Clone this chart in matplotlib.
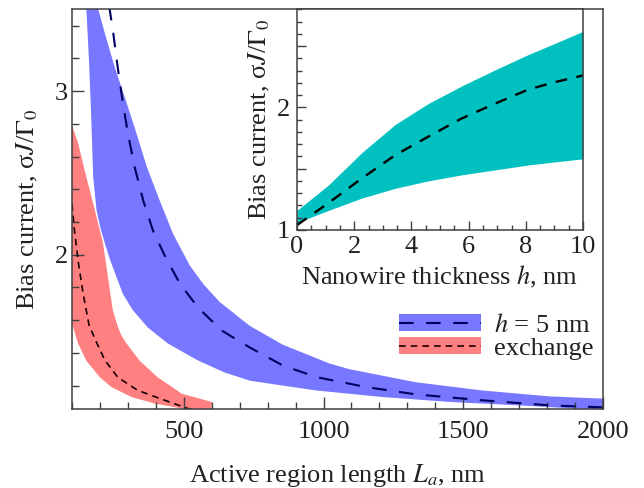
import numpy as np
import matplotlib
matplotlib.use('Agg')
import matplotlib.pyplot as plt
from matplotlib.patches import Patch
from matplotlib.lines import Line2D
from matplotlib.ticker import MultipleLocator, FuncFormatter

plt.rcParams['font.family'] = 'serif'
plt.rcParams['font.serif'] = ['Liberation Serif', 'DejaVu Serif']
plt.rcParams['mathtext.fontset'] = 'stix'
plt.rcParams['font.size'] = 19

# main panel: bias current vs active region length
# h = 5 nm band (upper and lower edges) and dashed curve
blue_up_L = [186, 218, 254, 295, 331, 367, 414, 461, 521, 570, 629, 736, 854, 1021, 1093, 1331, 1568, 1807, 2000]
blue_up_J = [3.55, 3.35, 3.14, 2.93, 2.74, 2.54, 2.33, 2.13, 1.935, 1.82, 1.71, 1.565, 1.45, 1.335, 1.30, 1.22, 1.17, 1.134, 1.12]
blue_lo_L = [150, 161, 168, 176, 188, 202, 218, 236, 260, 282, 318, 371, 443, 550, 646, 736, 854, 974, 1211, 1450, 1688, 2000]
blue_lo_J = [3.55, 3.18, 2.88, 2.47, 2.27, 2.16, 2.067, 1.97, 1.86, 1.76, 1.66, 1.555, 1.457, 1.354, 1.28, 1.23, 1.20, 1.17, 1.13, 1.10, 1.08, 1.05]
h5_L = [233, 248, 264, 281, 300, 325, 355, 390, 432, 486, 551, 635, 736, 854, 974, 1152, 1331, 1568, 1807, 2000]
h5_J = [3.52, 3.35, 3.14, 2.94, 2.74, 2.53, 2.33, 2.146, 1.994, 1.823, 1.677, 1.537, 1.433, 1.323, 1.252, 1.191, 1.146, 1.11, 1.079, 1.067]

# exchange band and dashed curve
red_up_L = [100, 122, 152, 182, 211, 229, 246, 264, 277, 296, 343, 407, 493, 600]
red_up_J = [2.79, 2.68, 2.47, 2.27, 2.07, 1.86, 1.66, 1.56, 1.505, 1.455, 1.35, 1.25, 1.15, 1.10]
red_lo_L = [100, 121, 152, 200, 242, 313, 396, 493, 600]
red_lo_J = [1.58, 1.46, 1.35, 1.25, 1.19, 1.13, 1.09, 1.06, 1.03]
ex_L = [100, 108, 122, 140, 161, 186, 218, 264, 336, 432, 514, 560]
ex_J = [2.31, 2.16, 1.96, 1.76, 1.57, 1.47, 1.354, 1.25, 1.17, 1.11, 1.06, 1.04]

# inset: bias current vs nanowire thickness
h_nm = [0, 1.1, 2.26, 3.43, 4.58, 5.76, 6.92, 8.08, 9, 10]
teal_up = [1.16, 1.367, 1.63, 1.86, 2.03, 2.175, 2.305, 2.43, 2.52, 2.62]
teal_lo = [1.06, 1.16, 1.26, 1.34, 1.40, 1.45, 1.49, 1.53, 1.555, 1.58]
teal_mid = [1.04, 1.22, 1.42, 1.61, 1.76, 1.91, 2.03, 2.145, 2.205, 2.26]

blue = '#7777ff'
red = '#ff8080'
teal = '#00c0c0'
navy = '#000060'
spine_c = '#404040'
text_c = '#222222'


def band(ax, xu, yu, xl, yl, color):
    xs = np.concatenate([xu, xl[::-1]])
    ys = np.concatenate([yu, yl[::-1]])
    ax.fill(xs, ys, color=color, lw=0)


def style_axes(ax, major_len, minor_len):
    for s in ax.spines.values():
        s.set_color(spine_c)
        s.set_linewidth(1.1)
    ax.tick_params(which='both', direction='in', top=False, right=False,
                   color=spine_c, width=1.0, labelcolor=text_c)
    ax.tick_params(which='major', length=major_len)
    ax.tick_params(which='minor', length=minor_len)


fig = plt.figure(figsize=(6.44, 4.88), dpi=100)
ax = fig.add_axes([0.1118, 0.1613, 0.8245, 0.8197])

band(ax, np.array(blue_up_L), np.array(blue_up_J), np.array(blue_lo_L), np.array(blue_lo_J), blue)
band(ax, np.array(red_up_L), np.array(red_up_J), np.array(red_lo_L), np.array(red_lo_J), red)
ax.plot(h5_L, h5_J, color=navy, lw=1.5, dashes=(7, 6))
ax.plot(ex_L, ex_J, color='#1a0000', lw=1.2, dashes=(4, 3))

ax.set_xlim(100, 2000)
ax.set_ylim(1.055, 3.5)
ax.xaxis.set_major_locator(MultipleLocator(500))
ax.xaxis.set_minor_locator(MultipleLocator(100))
ax.yaxis.set_major_locator(MultipleLocator(1))
ax.yaxis.set_minor_locator(MultipleLocator(0.2))
style_axes(ax, 8.6, 5)
ax.tick_params(axis='x', pad=8.5)
ax.tick_params(axis='y', pad=3)

ax.set_xlabel('Active region length $L_a$, nm', color=text_c, va='baseline')
ax.xaxis.set_label_coords(0.5, -0.182)
ax.set_ylabel(r'Bias current, σ$J$/$\Gamma_0$', color=text_c)
ax.yaxis.set_label_coords(-0.060, 0.5)

h_blue = (Patch(facecolor=blue, lw=0), Line2D([], [], color=navy, lw=1.5, dashes=(7, 6)))
h_red = (Patch(facecolor=red, lw=0), Line2D([], [], color='#1a0000', lw=1.2, dashes=(4, 3)))
leg = ax.legend([h_blue, h_red], ['$h$ = 5 nm', 'exchange'], frameon=False,
                loc='upper left', bbox_to_anchor=(399 / 644, (488 - 314) / 488),
                bbox_transform=fig.transFigure, borderpad=0, borderaxespad=0,
                handlelength=3.1, handleheight=0.6, handletextpad=0.5,
                labelspacing=0.0)
for t in leg.get_texts():
    t.set_color(text_c)

# inset
ins = fig.add_axes([0.4612, 0.5287, 0.4441, 0.4523])
ins.fill_between(h_nm, teal_lo, teal_up, color=teal, lw=0)
ins.plot(h_nm, teal_mid, color='black', lw=1.7, dashes=(5, 4))
ins.set_xlim(0, 10)
ins.set_ylim(1, 2.8)
ins.xaxis.set_major_locator(MultipleLocator(2))
ins.xaxis.set_minor_locator(MultipleLocator(0.5))
ins.yaxis.set_major_locator(MultipleLocator(0.5))
ins.yaxis.set_minor_locator(MultipleLocator(0.1))
ins.yaxis.set_major_formatter(FuncFormatter(lambda v, p: f'{v:.0f}' if abs(v - round(v)) < 1e-6 else ''))
style_axes(ins, 6.5, 3.6)
ins.tick_params(axis='x', pad=4)
ins.tick_params(axis='y', pad=5)
ins.set_xlabel('Nanowire thickness $h$, nm', color=text_c, va='baseline')
ins.xaxis.set_label_coords(0.5, -0.245)
ins.set_ylabel(r'Bias current, σ$J$/$\Gamma_0$', color=text_c)
ins.yaxis.set_label_coords(-0.087, 0.5)

fig.savefig('out.png', dpi=100)
